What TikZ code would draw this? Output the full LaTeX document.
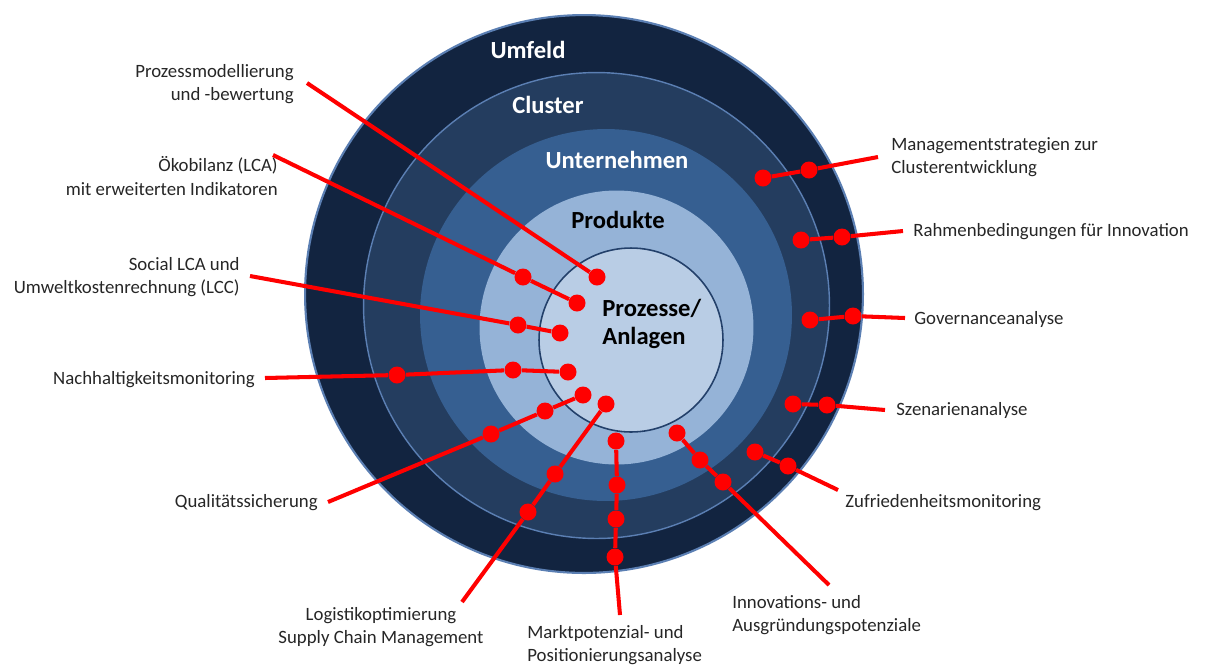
\documentclass[tikz,border=0pt]{standalone}
\usepackage{fontspec}
\setmainfont{Carlito}
\usepackage{xcolor}
\usepackage{tikz}

\definecolor{umfeldblau}{HTML}{122440}
\definecolor{clusterblau}{HTML}{243D5F}
\definecolor{unternehmenblau}{HTML}{365F91}
\definecolor{produktblau}{HTML}{95B3D7}
\definecolor{prozessblau}{HTML}{B9CDE5}
\definecolor{randhell}{HTML}{5B7FB3}
\definecolor{randdunkel}{HTML}{23406A}
\definecolor{textgrau}{HTML}{262626}

\begin{document}
\begin{tikzpicture}[x=0.02cm, y=-0.02cm,
    ring/.style={circle, inner sep=0pt},
    ringtext/.style={font=\fontsize{14}{16}\selectfont\bfseries},
    dot/.style={circle, fill=red, inner sep=0pt, minimum size=0.34cm},
    link/.style={draw=red, line width=2.3pt},
    lbl/.style={font=\fontsize{10.7}{13.4}\selectfont, text=textgrau, inner sep=0pt}
]
    \useasboundingbox (0,0) rectangle (1207,664);

    % Schalen von aussen nach innen
    \node[ring, fill=umfeldblau, draw=randhell, line width=1.2pt, minimum size=11.16cm] (umfeld) at (584,294) {};
    \node[ring, fill=clusterblau, draw=randhell, line width=0.8pt, minimum size=9.32cm] (cluster) at (596.5,305.5) {};
    \node[ring, fill=unternehmenblau, minimum size=7.44cm] (unternehmen) at (606,315) {};
    \node[ring, fill=produktblau, minimum size=5.48cm] (produkte) at (616.5,327.5) {};
    \node[ring, fill=prozessblau, draw=randdunkel, line width=0.9pt, minimum size=3.68cm] (prozesse) at (631,340) {};

    \node[ringtext, text=white] (tumfeld) at (528,50) {Umfeld};
    \node[ringtext, text=white] (tcluster) at (548,105) {Cluster};
    \node[ringtext, text=white] (tunternehmen) at (617,160) {Unternehmen};
    \node[ringtext, text=black] (tprodukte) at (618,220) {Produkte};
    \node[ringtext, text=black, align=left, anchor=west, inner sep=0pt] (tprozesse) at (602,324) {Prozesse/\\Anlagen};

    % Beschriftungen links
    \node[lbl, align=right, anchor=east] (l1) at (294,84) {Prozessmodellierung\\und -bewertung};
    \node[lbl, align=right, anchor=east] (l2) at (278,176) {Ökobilanz (LCA)\\mit erweiterten Indikatoren};
    \node[lbl, align=right, anchor=east] (l3) at (240,277) {Social LCA und\\Umweltkostenrechnung (LCC)};
    \node[lbl, anchor=east] (l4) at (255,380) {Nachhaltigkeitsmonitoring};
    \node[lbl, anchor=east] (l5) at (318,503) {Qualitätssicherung};
    \node[lbl, align=center] (l6) at (381,627) {Logistikoptimierung\\Supply Chain Management};
    % Beschriftungen unten und rechts
    \node[lbl, align=left, anchor=west] (l7) at (527,645) {Marktpotenzial- und\\Positionierungsanalyse};
    \node[lbl, align=left, anchor=west] (l8) at (732,615) {Innovations- und\\Ausgründungspotenziale};
    \node[lbl, anchor=west] (l9) at (845,503) {Zufriedenheitsmonitoring};
    \node[lbl, anchor=west] (l10) at (896,410) {Szenarienanalyse};
    \node[lbl, anchor=west] (l11) at (914,319) {Governanceanalyse};
    \node[lbl, anchor=west] (l12) at (913,232) {Rahmenbedingungen für Innovation};
    \node[lbl, align=left, anchor=west] (l13) at (891,157) {Managementstrategien zur\\Clusterentwicklung};

    % freie Linienenden
    \coordinate (e1) at (307,83);
    \coordinate (e2) at (273,155);
    \coordinate (e3) at (250,276);
    \coordinate (e4) at (265,378);
    \coordinate (e5) at (328,502);
    \coordinate (e6) at (462,602);
    \coordinate (e7) at (620,615);
    \coordinate (e8) at (829,585);
    \coordinate (e9) at (838,490);
    \coordinate (e10) at (885,410);
    \coordinate (e11) at (905,318);
    \coordinate (e12) at (903,231);
    \coordinate (e13) at (878,157);

    % Punkte
    \node[dot] (d1) at (597,277) {};
    \node[dot] (d2a) at (523,277) {};
    \node[dot] (d2b) at (577,303) {};
    \node[dot] (d3a) at (518,325) {};
    \node[dot] (d3b) at (560,333) {};
    \node[dot] (d4a) at (397,375) {};
    \node[dot] (d4b) at (513,370) {};
    \node[dot] (d4c) at (568,372) {};
    \node[dot] (d5a) at (491,434) {};
    \node[dot] (d5b) at (545,411) {};
    \node[dot] (d5c) at (583,395) {};
    \node[dot] (d6a) at (528,512) {};
    \node[dot] (d6b) at (555,474) {};
    \node[dot] (d6c) at (606,404) {};
    \node[dot] (d7a) at (615,557) {};
    \node[dot] (d7b) at (616,519) {};
    \node[dot] (d7c) at (617,485) {};
    \node[dot] (d7d) at (616,441) {};
    \node[dot] (d8a) at (723,482) {};
    \node[dot] (d8b) at (700,460) {};
    \node[dot] (d8c) at (677,433) {};
    \node[dot] (d9a) at (788,466) {};
    \node[dot] (d9b) at (755,452) {};
    \node[dot] (d10a) at (827,405) {};
    \node[dot] (d10b) at (793,404) {};
    \node[dot] (d11a) at (853,316) {};
    \node[dot] (d11b) at (810,320) {};
    \node[dot] (d12a) at (842,237) {};
    \node[dot] (d12b) at (801,240) {};
    \node[dot] (d13a) at (809,170) {};
    \node[dot] (d13b) at (763,178) {};

    \draw[link] (e1) -- (d1);
    \draw[link] (e2) -- (d2a) -- (d2b);
    \draw[link] (e3) -- (d3a) -- (d3b);
    \draw[link] (e4) -- (d4a) -- (d4b) -- (d4c);
    \draw[link] (e5) -- (d5a) -- (d5b) -- (d5c);
    \draw[link] (e6) -- (d6a) -- (d6b) -- (d6c);
    \draw[link] (e7) -- (d7a) -- (d7b) -- (d7c) -- (d7d);
    \draw[link] (e8) -- (d8a) -- (d8b) -- (d8c);
    \draw[link] (e9) -- (d9a) -- (d9b);
    \draw[link] (e10) -- (d10a) -- (d10b);
    \draw[link] (e11) -- (d11a) -- (d11b);
    \draw[link] (e12) -- (d12a) -- (d12b);
    \draw[link] (e13) -- (d13a) -- (d13b);
\end{tikzpicture}
\end{document}
